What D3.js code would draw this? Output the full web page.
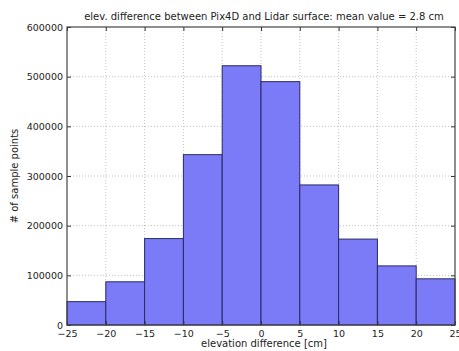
<!DOCTYPE html>
<html>
<head>
<meta charset="utf-8">
<script src="https://cdn.jsdelivr.net/npm/d3@7"></script>
<style>
  body { margin: 0; background: #fff; }
  text { font-family: "DejaVu Sans", sans-serif; fill: #222; }
</style>
</head>
<body>
<svg id="chart" width="459" height="351"></svg>
<script>
// histogram bins (left edges) and counts
var binEdges = [-25, -20, -15, -10, -5, 0, 5, 10, 15, 20, 25];
var counts = [47000, 87000, 174000, 343000, 522000, 490000, 282000, 173000, 119000, 93000];
var xTicks = [-25, -20, -15, -10, -5, 0, 5, 10, 15, 20, 25];
var yTicks = [0, 100000, 200000, 300000, 400000, 500000, 600000];

var margin = {top: 27, right: 4, bottom: 26, left: 67};
var W = 459, H = 351;
var w = W - margin.left - margin.right;
var h = H - margin.top - margin.bottom;

var svg = d3.select('#chart');
var g = svg.append('g').attr('transform', 'translate(' + margin.left + ',' + margin.top + ')');

var x = d3.scaleLinear().domain([-25, 25]).range([0, w]);
var y = d3.scaleLinear().domain([0, 600000]).range([h, 0]);

// grid
g.append('g').selectAll('line').data(xTicks.slice(1, -1)).enter()
  .append('line')
  .attr('x1', function(d) { return x(d); }).attr('x2', function(d) { return x(d); })
  .attr('y1', 0).attr('y2', h)
  .attr('stroke', '#999').attr('stroke-width', 0.6).attr('stroke-dasharray', '1,2');
g.append('g').selectAll('line').data(yTicks.slice(1, -1)).enter()
  .append('line')
  .attr('y1', function(d) { return y(d); }).attr('y2', function(d) { return y(d); })
  .attr('x1', 0).attr('x2', w)
  .attr('stroke', '#999').attr('stroke-width', 0.6).attr('stroke-dasharray', '1,2');

// bars
g.append('g').selectAll('rect').data(counts).enter()
  .append('rect')
  .attr('x', function(d, i) { return x(binEdges[i]); })
  .attr('width', function(d, i) { return x(binEdges[i + 1]) - x(binEdges[i]); })
  .attr('y', function(d) { return y(d); })
  .attr('height', function(d) { return h - y(d); })
  .attr('fill', '#7b7bf7')
  .attr('stroke', '#2a2a66')
  .attr('stroke-width', 1);

// axes (matplotlib style: ticks inside, all four sides)
var fmtMinus = function(d) { return String(d).replace('-', '\u2212'); };
var xAxis = d3.axisBottom(x).tickValues(xTicks).tickSizeInner(-4).tickSizeOuter(0).tickPadding(5).tickFormat(fmtMinus);
var yAxis = d3.axisLeft(y).tickValues(yTicks).tickSizeInner(-4).tickSizeOuter(0).tickPadding(4).tickFormat(d3.format('d'));

var gx = g.append('g').attr('transform', 'translate(0,' + h + ')').call(xAxis);
var gy = g.append('g').call(yAxis);
g.append('g').call(d3.axisTop(x).tickValues(xTicks).tickSizeInner(-4).tickSizeOuter(0).tickFormat(''));
g.append('g').attr('transform', 'translate(' + w + ',0)')
  .call(d3.axisRight(y).tickValues(yTicks).tickSizeInner(-4).tickSizeOuter(0).tickFormat(''));

g.selectAll('.domain').remove();
g.selectAll('.tick line').attr('stroke', '#333');
[gx, gy].forEach(function(a) {
  a.selectAll('text').style('font-family', '"DejaVu Sans", sans-serif').style('font-size', '9.5px').attr('fill', '#222');
});

g.append('rect').attr('width', w).attr('height', h)
  .attr('fill', 'none').attr('stroke', '#444').attr('stroke-width', 1.2);

// labels
svg.append('text').attr('x', margin.left + w / 2 + 3).attr('y', 20)
  .attr('text-anchor', 'middle').style('font-size', '10px')
  .text('elev. difference between Pix4D and Lidar surface: mean value = 2.8 cm');
svg.append('text').attr('x', margin.left + w / 2 + 3).attr('y', 347)
  .attr('text-anchor', 'middle').style('font-size', '10px')
  .text('elevation difference [cm]');
svg.append('text').attr('transform', 'translate(18,' + (margin.top + h / 2) + ') rotate(-90)')
  .attr('text-anchor', 'middle').style('font-size', '10px')
  .text('# of sample points');
</script>
</body>
</html>
